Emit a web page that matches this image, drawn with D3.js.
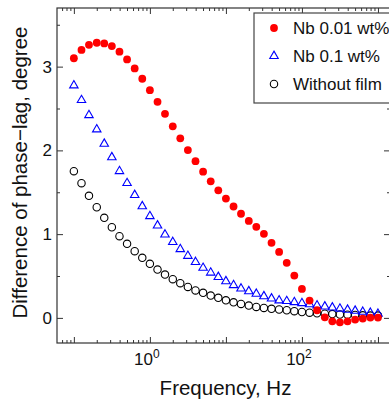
<!DOCTYPE html>
<html>
<head>
<meta charset="utf-8">
<script src="https://cdn.jsdelivr.net/npm/d3@7"></script>
<style>
  body { margin: 0; background: #fff; }
  svg { display: block; font-family: 'Liberation Sans', Arial, sans-serif; }
</style>
</head>
<body>
<div id="chart"></div>
<script>
// frequency points, Hz (10 per decade)
const freqs = [0.1, 0.126, 0.158, 0.2, 0.251, 0.316, 0.398, 0.501, 0.631, 0.794,
  1, 1.26, 1.58, 2, 2.51, 3.16, 3.98, 5.01, 6.31, 7.94,
  10, 12.6, 15.8, 20, 25.1, 31.6, 39.8, 50.1, 63.1, 79.4,
  100, 126, 158, 200, 251, 316, 398, 501, 631, 794, 1000];

const nb001 = [3.10, 3.20, 3.26, 3.285, 3.277, 3.245, 3.178, 3.086, 2.978, 2.855,
  2.719, 2.58, 2.437, 2.287, 2.144, 2.004, 1.871, 1.746, 1.630, 1.523,
  1.425, 1.330, 1.243, 1.158, 1.087, 1.004, 0.896, 0.787, 0.657, 0.505,
  0.346, 0.207, 0.091, 0.007, -0.041, -0.053, -0.041, -0.02, -0.008, 0.004, 0.004];

const nb01 = [2.775, 2.60, 2.42, 2.25, 2.079, 1.918, 1.752, 1.609, 1.467, 1.333,
  1.214, 1.103, 0.995, 0.905, 0.82, 0.74, 0.666, 0.597, 0.54, 0.488,
  0.437, 0.39, 0.35, 0.318, 0.287, 0.258, 0.231, 0.208, 0.2, 0.187,
  0.175, 0.162, 0.148, 0.136, 0.124, 0.11, 0.097, 0.085, 0.072, 0.06, 0.048];

const noFilm = [1.752, 1.608, 1.457, 1.321, 1.195, 1.082, 0.975, 0.884, 0.796, 0.717,
  0.645, 0.577, 0.517, 0.462, 0.414, 0.37, 0.328, 0.299, 0.266, 0.239,
  0.21, 0.186, 0.167, 0.147, 0.131, 0.119, 0.108, 0.1, 0.091, 0.08,
  0.07, 0.062, 0.055, 0.05, 0.045, 0.04, 0.038, 0.035, 0.03, 0.028, 0.028];

const seriesNames = ['Nb 0.01 wt%', 'Nb 0.1 wt%', 'Without film'];
const xMajor = [0.1, 1, 10, 100, 1000];
const xLabeled = [1, 100];
const yMajor = [0, 1, 2, 3];
const yMinor = [0.5, 1.5, 2.5, 3.5];

const width = 389, height = 403;
const box = { left: 57, top: 8, right: 390, bottom: 343 };

const svg = d3.select('#chart').append('svg')
  .attr('width', width)
  .attr('height', height);

const x = d3.scaleLog().domain([0.06, 1440]).range([box.left, box.right]);
const y = d3.scaleLinear().domain([-0.3, 3.7]).range([box.bottom, box.top]);

// minor x ticks: 2..9 times each decade inside the domain
const xMinor = [];
[0.01, 0.1, 1, 10, 100, 1000].forEach(dec => {
  for (let k = 2; k <= 9; k++) {
    const v = dec * k;
    if (v > x.domain()[0] && v < x.domain()[1]) xMinor.push(v);
  }
});

const tickColor = '#333';

function drawTicks(axisFn, pos, values, size) {
  svg.append('g')
    .attr('transform', pos)
    .call(axisFn.tickValues(values).tickSize(size).tickFormat(''))
    .call(g => g.select('.domain').remove())
    .selectAll('line').attr('stroke', tickColor).attr('stroke-width', 1);
}

// ticks point inward on all four sides
drawTicks(d3.axisBottom(x), `translate(0,${box.bottom})`, xMajor, -6);
drawTicks(d3.axisBottom(x), `translate(0,${box.bottom})`, xMinor, -3);
drawTicks(d3.axisTop(x), `translate(0,${box.top})`, xMajor, -6);
drawTicks(d3.axisTop(x), `translate(0,${box.top})`, xMinor, -3);
drawTicks(d3.axisLeft(y), `translate(${box.left},0)`, yMajor, -6);
drawTicks(d3.axisLeft(y), `translate(${box.left},0)`, yMinor, -3);
drawTicks(d3.axisRight(y), `translate(${box.right},0)`, yMajor, -6);
drawTicks(d3.axisRight(y), `translate(${box.right},0)`, yMinor, -3);

svg.append('rect')
  .attr('x', box.left).attr('y', box.top)
  .attr('width', box.right - box.left).attr('height', box.bottom - box.top)
  .attr('fill', 'none').attr('stroke', tickColor).attr('stroke-width', 1.2);

// tick labels
svg.append('g').selectAll('text')
  .data(yMajor).enter().append('text')
  .attr('x', box.left - 5)
  .attr('y', d => y(d) + 6)
  .attr('text-anchor', 'end')
  .attr('font-size', '17px')
  .attr('fill', '#111')
  .text(d => d);

const xl = svg.append('g').selectAll('text')
  .data(xLabeled).enter().append('text')
  .attr('x', d => x(d) - 3)
  .attr('y', 365)
  .attr('text-anchor', 'middle')
  .attr('font-size', '17px')
  .attr('fill', '#111');
xl.append('tspan').text('10');
xl.append('tspan').attr('dy', -7).attr('font-size', '12px').text(d => Math.round(Math.log10(d)));

// axis titles
svg.append('text')
  .attr('x', (box.left + box.right) / 2 + 2)
  .attr('y', 395)
  .attr('text-anchor', 'middle')
  .attr('font-size', '20.5px')
  .attr('fill', '#111')
  .text('Frequency, Hz');

svg.append('text')
  .attr('transform', `translate(27, ${(box.top + box.bottom) / 2 - 3}) rotate(-90)`)
  .attr('text-anchor', 'middle')
  .attr('font-size', '20.5px')
  .attr('fill', '#111')
  .text('Difference of phase\u2212lag, degree');

// markers
const tri = d3.symbol().type(d3.symbolTriangle).size(31);
const plot = svg.append('g');

plot.selectAll('.nofilm')
  .data(freqs.map((f, i) => [f, noFilm[i]])).enter().append('circle')
  .attr('cx', d => x(d[0])).attr('cy', d => y(d[1])).attr('r', 3.7)
  .attr('fill', 'none').attr('stroke', '#000').attr('stroke-width', 1.1);

plot.selectAll('.nb01')
  .data(freqs.map((f, i) => [f, nb01[i]])).enter().append('path')
  .attr('d', tri)
  .attr('transform', d => `translate(${x(d[0])},${y(d[1])})`)
  .attr('fill', 'none').attr('stroke', '#0000ff').attr('stroke-width', 1.1);

plot.selectAll('.nb001')
  .data(freqs.map((f, i) => [f, nb001[i]])).enter().append('circle')
  .attr('cx', d => x(d[0])).attr('cy', d => y(d[1])).attr('r', 3.9)
  .attr('fill', '#ff0000');

// legend
const lg = svg.append('g');
lg.append('rect')
  .attr('x', 254).attr('y', 13).attr('width', 140).attr('height', 90)
  .attr('fill', '#fff').attr('stroke', '#444').attr('stroke-width', 1.2);

seriesNames.forEach((name, i) => {
  const cy = 28 + i * 28;
  if (i === 0) {
    lg.append('circle').attr('cx', 274).attr('cy', cy).attr('r', 3.9).attr('fill', '#ff0000');
  } else if (i === 1) {
    lg.append('path').attr('d', tri).attr('transform', `translate(274,${cy})`)
      .attr('fill', 'none').attr('stroke', '#0000ff').attr('stroke-width', 1.1);
  } else {
    lg.append('circle').attr('cx', 274).attr('cy', cy).attr('r', 3.7)
      .attr('fill', 'none').attr('stroke', '#000').attr('stroke-width', 1.1);
  }
  lg.append('text')
    .attr('x', 293).attr('y', cy + 6)
    .attr('font-size', '17px')
    .attr('fill', '#111')
    .text(name);
});
</script>
</body>
</html>
